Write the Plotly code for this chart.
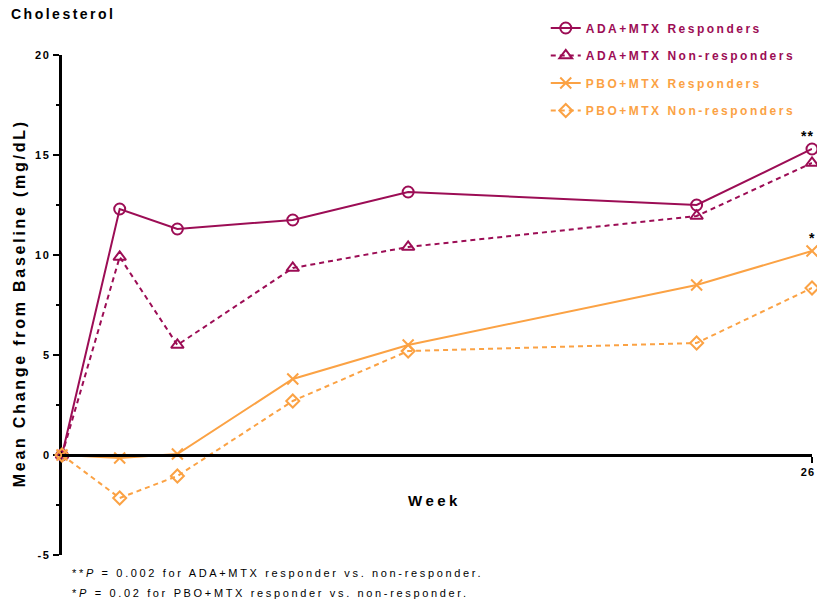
import plotly.graph_objects as go

weeks = [0, 2, 4, 8, 12, 22, 26]
ada_resp = [0, 12.3, 11.3, 11.75, 13.15, 12.5, 15.3]
ada_non = [0, 9.9, 5.5, 9.35, 10.4, 11.95, 14.6]
pbo_resp = [0, -0.15, 0.05, 3.8, 5.5, 8.5, 10.2]
pbo_non = [0, -2.15, -1.05, 2.7, 5.2, 5.6, 8.35]

series_names = ["ADA+MTX Responders", "ADA+MTX Non-responders",
                "PBO+MTX Responders", "PBO+MTX Non-responders"]
y_ticks = [-5, 0, 5, 10, 15, 20]
y_minor = [-2.5, 2.5, 7.5, 12.5, 17.5]
x_ticks = [26]

MAG = "#9c0d55"
ORA = "#fba244"
FONT = "Liberation Sans, Arial, sans-serif"


def sp(text, ls, color=None):
    style = "letter-spacing:%spx" % ls
    if color:
        style += ";color:" + color
    return '<span style="%s">%s</span>' % (style, text)


fig = go.Figure()
specs = [
    (ada_resp, series_names[0], MAG, "solid", "circle-open", 11),
    (ada_non, series_names[1], MAG, "5px,4px", "triangle-up-open", 11),
    (pbo_resp, series_names[2], ORA, "solid", "x-thin-open", 11),
    (pbo_non, series_names[3], ORA, "5px,4px", "diamond-open", 10),
]
for i, (vals, name, col, dash, sym, size) in enumerate(specs):
    fig.add_trace(go.Scatter(
        x=weeks, y=vals, mode="lines+markers",
        name="<b>" + sp(name, 2.5, col) + "</b>",
        legendgroup="g%d" % i,
        line=dict(color=col, width=2, dash=dash),
        marker=dict(symbol=sym, size=size, color=col,
                    line=dict(color=col, width=2)),
        cliponaxis=False,
    ))

fig.update_layout(
    width=817, height=605,
    margin=dict(l=62, r=5, t=55, b=50, autoexpand=False),
    paper_bgcolor="white", plot_bgcolor="white",
    font=dict(family=FONT, color="black"),
    showlegend=True,
    legend=dict(x=0.645, y=1.083, xanchor="left", yanchor="top",
                bgcolor="rgba(0,0,0,0)", itemwidth=30,
                tracegroupgap=8.5, font=dict(size=12, family=FONT)),
    xaxis=dict(range=[0, 26], anchor="free", position=0.2,
               showline=True, linecolor="black", linewidth=3,
               showgrid=False, zeroline=False, automargin=False,
               tickvals=x_ticks,
               ticktext=["<b>" + sp(str(v), 1.2) + "</b>" for v in x_ticks],
               ticks="outside", ticklen=6, tickwidth=2, tickcolor="black",
               ticklabeloverflow="allow", ticklabelshift=-4,
               tickfont=dict(size=11, family=FONT)),
    yaxis=dict(range=[-5, 20], showline=True, linecolor="black", linewidth=3,
               showgrid=False, zeroline=False, automargin=False,
               tickvals=y_ticks,
               ticktext=["<b>" + sp(str(v), 1.8) + "</b>" for v in y_ticks],
               ticks="outside", ticklen=6, tickwidth=2, tickcolor="black",
               tickfont=dict(size=11, family=FONT),
               minor=dict(tickvals=y_minor, ticks="outside", ticklen=3,
                          tickwidth=2, tickcolor="black"),
               layer="below traces"),
)

annos = [
    dict(text="<b>" + sp("Cholesterol", 2.5) + "</b>", x=-0.071, y=1.082,
         xanchor="left", yanchor="middle", font=dict(size=14)),
    dict(text="<b>" + sp("Mean Change from Baseline (mg/dL)", 2.75) + "</b>",
         x=-0.057, y=0.504, textangle=-90, xanchor="center", yanchor="middle",
         font=dict(size=16)),
    dict(text="<b>" + sp("Week", 3.5) + "</b>", x=0.497, y=0.11,
         xanchor="center", yanchor="middle", font=dict(size=15)),
    dict(text=sp("**<i>P</i> = 0.002 for ADA+MTX responder vs. non-responder.", 2.65),
         x=0.0107, y=-0.036, xanchor="left", yanchor="middle", font=dict(size=11)),
    dict(text=sp("*<i>P</i> = 0.02 for PBO+MTX responder vs. non-responder.", 2.65),
         x=0.0107, y=-0.076, xanchor="left", yanchor="middle", font=dict(size=11)),
]
for a in annos:
    a.update(xref="paper", yref="paper", showarrow=False)
    a["font"] = dict(family=FONT, color="black", **a["font"])
    fig.add_annotation(**a)

fig.add_annotation(x=weeks[-1], y=ada_resp[-1], xref="x", yref="y",
                   text="<b>" + sp("**", 1) + "</b>", showarrow=False,
                   xanchor="right", xshift=4,
                   yshift=13, font=dict(size=14, family=FONT, color="black"))
fig.add_annotation(x=weeks[-1], y=pbo_resp[-1], xref="x", yref="y",
                   text="<b>*</b>", showarrow=False,
                   yshift=13, font=dict(size=14, family=FONT, color="black"))

fig.write_html(
    "out.html",
    config={"displayModeBar": False},
    post_script="document.body.style.margin='0';"
                "document.body.style.overflow='hidden';",
)
